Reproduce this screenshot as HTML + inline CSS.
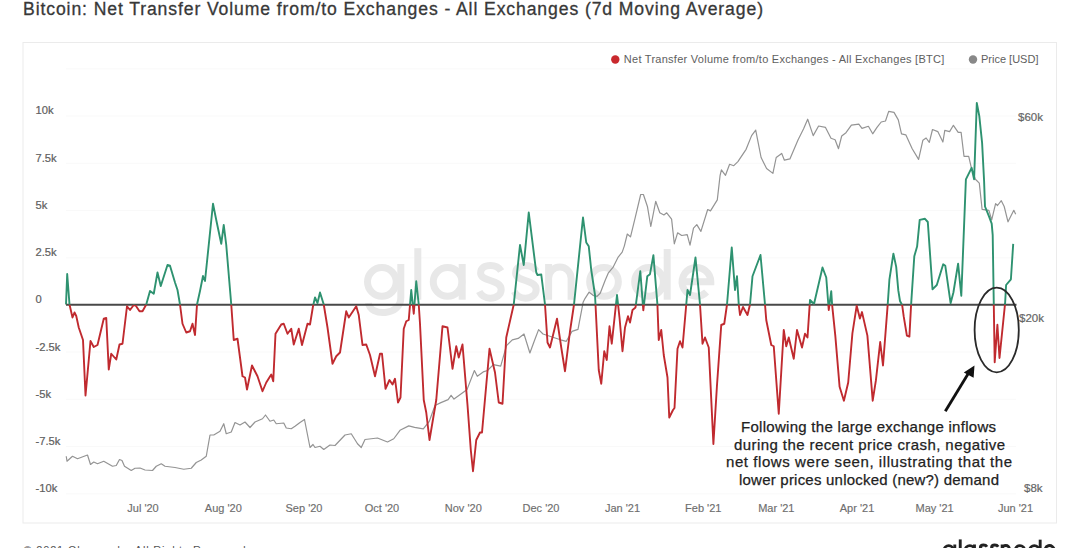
<!DOCTYPE html>
<html><head><meta charset="utf-8">
<style>
html,body{margin:0;padding:0;background:#fff;width:1080px;height:548px;overflow:hidden;}
body{position:relative;font-family:"Liberation Sans",sans-serif;}
svg{position:absolute;left:0;top:0;}
</style></head><body>
<svg width="1080" height="548" viewBox="0 0 1080 548" font-family="Liberation Sans">
<defs>
<clipPath id="up"><rect x="0" y="0" width="1080" height="304.8"/></clipPath>
<clipPath id="dn"><rect x="0" y="304.8" width="1080" height="300"/></clipPath>
</defs>
<text x="23" y="14.8" font-size="17.6" fill="#383838" stroke="#383838" stroke-width="0.3" textLength="740" lengthAdjust="spacing">Bitcoin: Net Transfer Volume from/to Exchanges - All Exchanges (7d Moving Average)</text>
<rect x="23" y="42.5" width="1033.5" height="480.5" fill="#fff" stroke="#ebebeb" stroke-width="1"/>
<g stroke="#f9f9f9" stroke-width="1">
<line x1="66" y1="68.8" x2="1016" y2="68.8" />
<line x1="66" y1="116" x2="1016" y2="116" />
<line x1="66" y1="163.3" x2="1016" y2="163.3" />
<line x1="66" y1="210.5" x2="1016" y2="210.5" />
<line x1="66" y1="257.8" x2="1016" y2="257.8" />
<line x1="66" y1="352" x2="1016" y2="352" />
<line x1="66" y1="399.3" x2="1016" y2="399.3" />
<line x1="66" y1="446.5" x2="1016" y2="446.5" />
<line x1="66" y1="493.8" x2="1016" y2="493.8" />
</g>
<g fill="none" stroke="#e8e8e8" stroke-width="7">
<circle cx="381.85" cy="281.85" r="14.35"/>
<path d="M400.8,264 V298 C400.8,316 370,317 368.5,303"/>
<path d="M417.8,248.2 V299.7"/>
<circle cx="447.6" cy="281.85" r="14.35"/>
<path d="M462.2,264 V299.7"/>
<path transform="translate(0,0)" d="M501.2,271 C498.5,266.5 494,265.5 490.5,265.5 C484,265.5 480.6,268.5 480.6,273 C480.6,282 501.2,279 501.2,289.5 C501.2,295 496,298.2 490.5,298.2 C485.5,298.2 481.5,296 479.2,291.5"/>
<path transform="translate(35,0)" d="M501.2,271 C498.5,266.5 494,265.5 490.5,265.5 C484,265.5 480.6,268.5 480.6,273 C480.6,282 501.2,279 501.2,289.5 C501.2,295 496,298.2 490.5,298.2 C485.5,298.2 481.5,296 479.2,291.5"/>
<path d="M548.6,264 V299.7 M548.6,278.35 A11.25 11.25 0 0 1 571.1,278.35 V299.7"/>
<circle cx="604" cy="281.85" r="14.35"/>
<circle cx="649" cy="281.85" r="14.35"/>
<path d="M667.2,249 V299.7"/>
<path d="M682.1,281.85 H710.8 A14.35 14.35 0 1 0 706.6,292"/>
</g>
<g font-size="11.2" fill="#606060" stroke="#606060" stroke-width="0.2">
<text x="35.5" y="114.1">10k</text>
<text x="35.5" y="162.3">7.5k</text>
<text x="35.5" y="209.3">5k</text>
<text x="35.5" y="256.3">2.5k</text>
<text x="35.5" y="302.8">0</text>
<text x="35.5" y="350.8">-2.5k</text>
<text x="35.5" y="397.8">-5k</text>
<text x="35.5" y="444.8">-7.5k</text>
<text x="35.5" y="491.8">-10k</text>
</g>
<g font-size="11" fill="#6e6e6e" stroke="#6e6e6e" stroke-width="0.15">
<text x="143" y="511.8" text-anchor="middle">Jul &#39;20</text>
<text x="223.3" y="511.8" text-anchor="middle">Aug &#39;20</text>
<text x="304" y="511.8" text-anchor="middle">Sep &#39;20</text>
<text x="382" y="511.8" text-anchor="middle">Oct &#39;20</text>
<text x="463.3" y="511.8" text-anchor="middle">Nov &#39;20</text>
<text x="541" y="511.8" text-anchor="middle">Dec &#39;20</text>
<text x="622.5" y="511.8" text-anchor="middle">Jan &#39;21</text>
<text x="703.3" y="511.8" text-anchor="middle">Feb &#39;21</text>
<text x="776.3" y="511.8" text-anchor="middle">Mar &#39;21</text>
<text x="857" y="511.8" text-anchor="middle">Apr &#39;21</text>
<text x="934.6" y="511.8" text-anchor="middle">May &#39;21</text>
<text x="1015.5" y="511.8" text-anchor="middle">Jun &#39;21</text>
</g>
<g font-size="11.5" fill="#666" stroke="#666" stroke-width="0.2">
<text x="1018" y="120.5">$60k</text>
<text x="1019" y="322">$20k</text>
<text x="1024" y="491.5">$8k</text>
</g>
<g font-size="11" fill="#5e5e5e">
<circle cx="615.3" cy="59.5" r="4.2" fill="#c9282d"/>
<text x="623.8" y="63.3" textLength="320.5" lengthAdjust="spacing">Net Transfer Volume from/to Exchanges - All Exchanges [BTC]</text>
<circle cx="973" cy="59.5" r="4.2" fill="#888"/>
<text x="981" y="63.3">Price [USD]</text>
</g>
<polyline fill="none" stroke="#949494" stroke-width="1.2" stroke-linejoin="round" points="66.25,456.25 67,461.25 72.5,456.25 77.5,458.75 87.5,455 90.5,464.5 93.75,462 97.5,463.75 103.75,461.25 112.5,466.25 116.25,465.5 119.5,459.5 122,460.5 124.5,466.25 131.25,470.5 135,468.25 140,468 145,470 152.5,470.5 156.25,466.25 161.25,463.75 165,466.25 175,467.5 183.75,469.25 191.25,468.25 196.25,462.5 201.25,460 206.25,456.25 210,435 213.75,435 220,431.25 223.75,423.75 226.25,433.75 231.25,432 235,422.5 240,425 245,422 250,427.5 255,422 262.5,418.75 265.5,415 270,421.25 273.75,420 276.25,423.75 283.75,423 286.25,428 291.25,428.75 295,426.25 300,422.5 304.5,419.5 310,447.5 313,444.5 315,447.5 320,446.25 323.75,449.5 330,445 335,445.5 345,435 351.25,433.75 357.5,443.75 361.25,447.5 365,439.5 377.5,438 387.5,442 393.75,438.75 400,430.3 408.75,425.9 414.6,427.4 423.3,428.8 429.2,421.5 435,405.5 440.9,402.6 448.1,399.6 451.1,395.3 454,399.1 461.3,393.8 467.1,389.4 474.4,370.5 477.3,376.3 483.2,371.9 487.5,370.5 493.4,364.6 500.7,366.1 506.5,345.7 512.3,339.8 518.2,338.4 524,334 529.9,353 534.2,341.3 538.6,329.6 543,334 560.5,339.8 566.3,341.3 572,331.4 578,329.4 583.1,302.3 585.1,298.3 589.1,292.2 593.1,295.3 597.1,296.3 600.2,293.3 605.2,280.2 608.2,273.2 613.2,267.1 618.2,257.1 622.2,252.1 624.3,246.1 627.3,234 630.5,236.9 635.2,217.7 640.7,194.5 643.4,194.5 647.5,206.8 650.8,226.5 655.7,201.3 659.8,212.8 663.9,215 666.7,212.8 671.6,219.1 674.3,243.8 677.6,232.8 681.7,235.5 687.2,234.7 690,245.1 693.5,228.1 696.8,224.6 700.9,231.4 707.7,209.5 710.5,210.9 717.3,199.9 720.1,175.3 721.4,169.8 725.5,175.3 729.6,164.3 733.8,165.7 737.9,161.6 746.1,149.3 751.6,135.6 755.7,130.1 761.1,157.5 766.6,168.5 772.9,173.4 776.2,157.5 781.7,153.4 784.4,160.2 789.9,158.9 798.1,139.7 803.6,128.8 807.7,119.2 813.2,135.6 818.6,126 825.5,127.4 831,138.3 835.1,139.7 838.5,148.7 841.7,136 846,132.7 851.4,125.2 858.8,124.2 862,128.4 868.4,126.3 872.7,133.8 877,127.4 881.2,122 885.5,121 888.7,111.4 894,112.4 898.3,119.9 901.5,133.8 905.8,134.8 912.2,148.7 918.6,159.4 922.9,140.2 926.1,138 929.3,142.3 932.5,129.5 937.8,131.6 942.9,142 944.8,130.4 949.6,131.6 953.4,125.3 958.2,132.4 961.1,132.4 964,156.3 968.7,156.3 971.6,168.8 975.4,179.3 979.3,183.1 982.1,209.4 988.9,210.3 991.7,219.9 995.6,203.6 997.5,205.5 1001.3,200.7 1004.2,206.5 1008,221.8 1013.8,210.3 1015.7,214.2"/>
<line x1="66" y1="304.8" x2="1016.5" y2="304.8" stroke="#484848" stroke-width="2.1"/>
<polyline fill="none" stroke="#2e9270" stroke-width="1.9" stroke-linejoin="round" clip-path="url(#up)" points="66,304.5 67.2,274 69.5,304.5 72.5,317.5 74.5,312.5 76.25,316 78.75,327.5 83,340 85.5,395.5 90.5,341 93.75,347 97.5,345 103.75,318.75 106.25,318 108.75,369.5 111.25,353.75 116.25,359.5 119.5,344.5 122.5,343.75 127,306.25 130,310 133.75,305 136,306 139.5,311.25 142.5,311.25 146.25,304.5 150,291 153.75,293.75 157.5,272.5 160.75,286 167.5,265 170,265.75 175,282.5 177.5,290 180,304.5 182.5,323.75 186.25,332.5 190,331.25 192.5,323.75 195,335 197,304.5 200,291 203,276 205,281 213,203.75 216.25,220 221.25,243.75 223.75,225 226.25,245 231.25,304.5 233.75,340 237.5,338.75 242.5,376.25 245,377.5 247,389.5 252,365.5 257.5,376.25 262.5,391.25 266.25,382.5 271.25,374.5 273.25,381.25 275.5,333.75 281.25,324.5 283.75,323.75 287.5,333.75 291.25,328.75 293.75,344.5 298.75,328.75 302,345 307.5,323.75 310,324.5 313,306.25 315,297.5 317.5,303 320,292.5 323.75,304.5 327.5,327.5 332.5,363.75 336.25,356.25 340,352.5 346.25,311.25 348.75,317.5 356.25,306.25 358.75,315 362.5,345 366.25,344.5 370,355 375,376.25 380,353.75 382,353.75 385.5,388.75 389.5,380 392.5,384.5 395,378.75 398,402.5 400.5,397.5 403.75,328.75 406.25,321.25 408.75,320 411.25,290 413.75,313.75 416.25,281.25 418.75,304.5 420,323.75 423.75,400 426.25,412.5 429.5,440 436.25,400 442.5,326.25 447.5,327.5 452.5,368.75 456.25,346.25 458.75,357.5 462.5,344.5 467.5,405 470.8,450 473,471.25 476.25,440 480,432.5 482,432.5 489.5,348.75 495,372.5 498.75,402.5 502.5,403.75 506.25,337.5 513.75,304.5 520,245 523.75,265 528.75,212.5 536.25,272.5 537.5,275 541.25,274.5 545,304.5 547.5,342.5 550,347.5 557,318.75 561.25,347.5 565,371.25 570,331.25 574,304.5 583,217.5 586.25,242.5 588.75,246.25 591.25,270 595,295 595.5,304.5 598.75,370 601.25,383.75 604.25,351.25 606.75,360 609.5,326.25 611.75,343.75 617,295 619.5,317.5 622.5,351.25 625,327.5 628,316.25 630,322.5 632.5,310 635.5,307.5 640.3,271.2 643.3,310.3 647.3,276.2 650,274.2 653.4,255.1 657.4,304.3 658.75,340 661.25,330 663.75,355 667.5,377.5 669.25,417.5 673,410 674.5,408 677.5,348.75 680,341.25 682.5,347.5 686.25,304.5 687.5,290 690,295 695.5,257.5 700,304.5 702.5,343.75 705,337.5 708.75,347.5 713.4,444 717,385 721.25,325 724.25,323.75 727,304.5 731.75,247.5 735,290 737,276.25 738.75,304.5 740,315 743,307 747.5,315 750,304.5 752.5,276.25 760.5,255 765,304.5 766.25,320 771.25,345 773.75,346.25 778.75,413.75 783.75,330 786.25,346.25 788.75,337.5 793.75,358.75 797,330 802,347.5 805,333.75 807.5,337.5 810,300 814,304 822.5,267.5 826.25,277.5 828.75,310 831.25,291.25 832.1,304.6 835.3,335.6 839.6,386.8 843.9,400.7 848.2,382.5 852.4,333.4 856.7,305.7 859.9,318.5 862,312.1 867.4,335.6 872.7,400.7 875.9,380.4 880.2,342 883,365.5 887.7,304.6 889.4,279.7 893.4,253.6 896.2,266.9 898.3,290.4 900,301 902.2,305.3 903.7,316.4 906.9,335.6 909.4,336.6 911.1,304.6 914.3,256.2 917.1,246.6 919.7,219.9 925,218.8 927.8,222 932.5,289.3 936.8,285 943.2,264.3 945.3,265.8 950.6,303.2 953.4,292.5 958.1,263.7 961.3,295.7 965.9,179.3 971.6,167.8 974.1,179.3 976.8,103 979.3,116.1 982.1,142.9 984.1,181.2 985,206.5 988.9,216.1 991.7,223.7 992.7,235.2 994.7,362.2 997.4,324.7 999.5,358 1005.1,303.2 1006.1,285 1010.9,279.3 1013.2,243.9"/>
<polyline fill="none" stroke="#c02a2f" stroke-width="1.9" stroke-linejoin="round" clip-path="url(#dn)" points="66,304.5 67.2,274 69.5,304.5 72.5,317.5 74.5,312.5 76.25,316 78.75,327.5 83,340 85.5,395.5 90.5,341 93.75,347 97.5,345 103.75,318.75 106.25,318 108.75,369.5 111.25,353.75 116.25,359.5 119.5,344.5 122.5,343.75 127,306.25 130,310 133.75,305 136,306 139.5,311.25 142.5,311.25 146.25,304.5 150,291 153.75,293.75 157.5,272.5 160.75,286 167.5,265 170,265.75 175,282.5 177.5,290 180,304.5 182.5,323.75 186.25,332.5 190,331.25 192.5,323.75 195,335 197,304.5 200,291 203,276 205,281 213,203.75 216.25,220 221.25,243.75 223.75,225 226.25,245 231.25,304.5 233.75,340 237.5,338.75 242.5,376.25 245,377.5 247,389.5 252,365.5 257.5,376.25 262.5,391.25 266.25,382.5 271.25,374.5 273.25,381.25 275.5,333.75 281.25,324.5 283.75,323.75 287.5,333.75 291.25,328.75 293.75,344.5 298.75,328.75 302,345 307.5,323.75 310,324.5 313,306.25 315,297.5 317.5,303 320,292.5 323.75,304.5 327.5,327.5 332.5,363.75 336.25,356.25 340,352.5 346.25,311.25 348.75,317.5 356.25,306.25 358.75,315 362.5,345 366.25,344.5 370,355 375,376.25 380,353.75 382,353.75 385.5,388.75 389.5,380 392.5,384.5 395,378.75 398,402.5 400.5,397.5 403.75,328.75 406.25,321.25 408.75,320 411.25,290 413.75,313.75 416.25,281.25 418.75,304.5 420,323.75 423.75,400 426.25,412.5 429.5,440 436.25,400 442.5,326.25 447.5,327.5 452.5,368.75 456.25,346.25 458.75,357.5 462.5,344.5 467.5,405 470.8,450 473,471.25 476.25,440 480,432.5 482,432.5 489.5,348.75 495,372.5 498.75,402.5 502.5,403.75 506.25,337.5 513.75,304.5 520,245 523.75,265 528.75,212.5 536.25,272.5 537.5,275 541.25,274.5 545,304.5 547.5,342.5 550,347.5 557,318.75 561.25,347.5 565,371.25 570,331.25 574,304.5 583,217.5 586.25,242.5 588.75,246.25 591.25,270 595,295 595.5,304.5 598.75,370 601.25,383.75 604.25,351.25 606.75,360 609.5,326.25 611.75,343.75 617,295 619.5,317.5 622.5,351.25 625,327.5 628,316.25 630,322.5 632.5,310 635.5,307.5 640.3,271.2 643.3,310.3 647.3,276.2 650,274.2 653.4,255.1 657.4,304.3 658.75,340 661.25,330 663.75,355 667.5,377.5 669.25,417.5 673,410 674.5,408 677.5,348.75 680,341.25 682.5,347.5 686.25,304.5 687.5,290 690,295 695.5,257.5 700,304.5 702.5,343.75 705,337.5 708.75,347.5 713.4,444 717,385 721.25,325 724.25,323.75 727,304.5 731.75,247.5 735,290 737,276.25 738.75,304.5 740,315 743,307 747.5,315 750,304.5 752.5,276.25 760.5,255 765,304.5 766.25,320 771.25,345 773.75,346.25 778.75,413.75 783.75,330 786.25,346.25 788.75,337.5 793.75,358.75 797,330 802,347.5 805,333.75 807.5,337.5 810,300 814,304 822.5,267.5 826.25,277.5 828.75,310 831.25,291.25 832.1,304.6 835.3,335.6 839.6,386.8 843.9,400.7 848.2,382.5 852.4,333.4 856.7,305.7 859.9,318.5 862,312.1 867.4,335.6 872.7,400.7 875.9,380.4 880.2,342 883,365.5 887.7,304.6 889.4,279.7 893.4,253.6 896.2,266.9 898.3,290.4 900,301 902.2,305.3 903.7,316.4 906.9,335.6 909.4,336.6 911.1,304.6 914.3,256.2 917.1,246.6 919.7,219.9 925,218.8 927.8,222 932.5,289.3 936.8,285 943.2,264.3 945.3,265.8 950.6,303.2 953.4,292.5 958.1,263.7 961.3,295.7 965.9,179.3 971.6,167.8 974.1,179.3 976.8,103 979.3,116.1 982.1,142.9 984.1,181.2 985,206.5 988.9,216.1 991.7,223.7 992.7,235.2 994.7,362.2 997.4,324.7 999.5,358 1005.1,303.2 1006.1,285 1010.9,279.3 1013.2,243.9"/>
<ellipse cx="996.7" cy="330" rx="22.1" ry="42.3" fill="none" stroke="#2a2a2a" stroke-width="1.8"/>
<line x1="945.3" y1="411.3" x2="968" y2="374" stroke="#111" stroke-width="2.8"/>
<polygon points="974.5,365.5 963.8,372.5 973.6,377.8" fill="#111"/>
<g font-size="15" fill="#222" stroke="#222" stroke-width="0.25">
<text x="741" y="432" textLength="255" lengthAdjust="spacing">Following the large exchange inflows</text>
<text x="734" y="449.6" textLength="271" lengthAdjust="spacing">during the recent price crash, negative</text>
<text x="726" y="467.2" textLength="286" lengthAdjust="spacing">net flows were seen, illustrating that the</text>
<text x="739" y="484.8" textLength="260" lengthAdjust="spacing">lower prices unlocked (new?) demand</text>
</g>
<text x="23.6" y="553.5" font-size="11" fill="#555" textLength="226" lengthAdjust="spacing">© 2021 Glassnode. All Rights Reserved.</text>
<g fill="none" stroke="#222" stroke-width="9" transform="translate(943,539.4) scale(0.3205) translate(-364,-248.2)">
<circle cx="381.85" cy="281.85" r="14.35"/>
<path d="M400.8,264 V298 C400.8,316 370,317 368.5,303"/>
<path d="M417.8,248.2 V299.7"/>
<circle cx="447.6" cy="281.85" r="14.35"/>
<path d="M462.2,264 V299.7"/>
<path transform="translate(0,0)" d="M501.2,271 C498.5,266.5 494,265.5 490.5,265.5 C484,265.5 480.6,268.5 480.6,273 C480.6,282 501.2,279 501.2,289.5 C501.2,295 496,298.2 490.5,298.2 C485.5,298.2 481.5,296 479.2,291.5"/>
<path transform="translate(35,0)" d="M501.2,271 C498.5,266.5 494,265.5 490.5,265.5 C484,265.5 480.6,268.5 480.6,273 C480.6,282 501.2,279 501.2,289.5 C501.2,295 496,298.2 490.5,298.2 C485.5,298.2 481.5,296 479.2,291.5"/>
<path d="M548.6,264 V299.7 M548.6,278.35 A11.25 11.25 0 0 1 571.1,278.35 V299.7"/>
<circle cx="604" cy="281.85" r="14.35"/>
<circle cx="649" cy="281.85" r="14.35"/>
<path d="M667.2,249 V299.7"/>
<path d="M682.1,281.85 H710.8 A14.35 14.35 0 1 0 706.6,292"/>
</g>
</svg>
</body></html>
